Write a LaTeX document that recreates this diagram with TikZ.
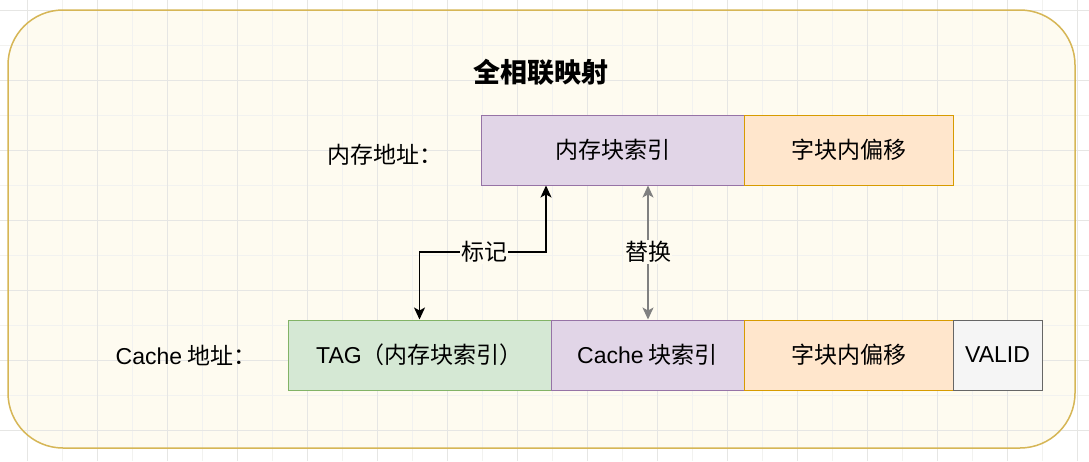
\documentclass[tikz,border=0pt]{standalone}
\usepackage{fontspec}
\setmainfont{Noto Sans CJK SC}
\newfontfamily\latin{Liberation Sans}
\usetikzlibrary{arrows.meta}
\definecolor{bgfill}{RGB}{254,251,240}
\definecolor{bgline}{RGB}{214,182,86}
\definecolor{purfill}{RGB}{225,213,231}
\definecolor{purline}{RGB}{150,115,166}
\definecolor{orgfill}{RGB}{255,230,204}
\definecolor{orgline}{RGB}{215,155,0}
\definecolor{grnfill}{RGB}{213,232,212}
\definecolor{grnline}{RGB}{130,179,102}
\definecolor{gryfill}{RGB}{245,245,245}
\definecolor{gryline}{RGB}{102,102,102}
\definecolor{gridmaj}{RGB}{230,230,228}
\definecolor{gridmin}{RGB}{242,242,240}

\begin{document}
\begin{tikzpicture}[
        x=1pt, y=-1pt,
        field/.style={
        rectangle, draw, line width=1pt,
        inner sep=0pt, minimum height=70pt,
        font=\fontsize{23}{26}\selectfont},
        txt/.style={font=\fontsize{23}{26}\selectfont, inner sep=1pt},
        link/.style={line width=1.5pt, -{Stealth[length=12pt,width=11pt,inset=3pt]}},
        ]

        \useasboundingbox (0,0) rectangle (1089,461);
        \fill[white] (0,0) rectangle (1089,461);
        \fill[bgfill, rounded corners=55pt] (8,10) rectangle (1075,448);

        % grid
        \foreach \gx in {-8,62,...,1112} \draw[gridmin] (\gx,0) -- (\gx,461);
        \foreach \gy in {45,115,...,461} \draw[gridmin] (0,\gy) -- (1089,\gy);
        \foreach \gx in {27,97,...,1089} \draw[gridmaj] (\gx,0) -- (\gx,461);
        \foreach \gy in {10,80,...,461} \draw[gridmaj] (0,\gy) -- (1089,\gy);

        \draw[bgline, line width=1.5pt, rounded corners=55pt] (8,10) rectangle (1075,448);

        \node (title) [font=\fontsize{27}{30}\selectfont\bfseries] at (541,72) {全相联映射};

        % memory address
        \node (memLbl) [txt] at (385,155) {内存地址：};
        \node (memIdx) [field, draw=purline, fill=purfill, minimum width=263pt] at (612.5,150) {内存块索引};
        \node (memOff) [field, draw=orgline, fill=orgfill, minimum width=209pt] at (848.5,150) {字块内偏移};

        % cache address
        \node (cacLbl) [txt] at (186,355) {{\latin Cache} 地址：};
        \node (cacTag) [field, draw=grnline, fill=grnfill, minimum width=263pt] at (419.5,355) {{\latin TAG}（内存块索引）};
        \node (cacIdx) [field, draw=purline, fill=purfill, minimum width=193pt] at (647.5,355) {{\latin Cache} 块索引};
        \node (cacOff) [field, draw=orgline, fill=orgfill, minimum width=209pt] at (848.5,355) {字块内偏移};
        \node (cacVal) [field, draw=gryline, fill=gryfill, minimum width=89pt] at (997.5,355) {\latin VALID};

        \node (mark) [txt, fill=bgfill] at (484,252) {标记};
        \node (swap) [txt, fill=bgfill] at (648,252) {替换};

        \draw[link] (mark) -| ([xshift=-66.5pt]memIdx.south);
        \draw[link] (mark) -| (cacTag.north);
        \draw[link, gray] (swap) -- (swap |- memIdx.south);
        \draw[link, gray] (swap) -- (swap |- cacIdx.north);
    \end{tikzpicture}
\end{document}
